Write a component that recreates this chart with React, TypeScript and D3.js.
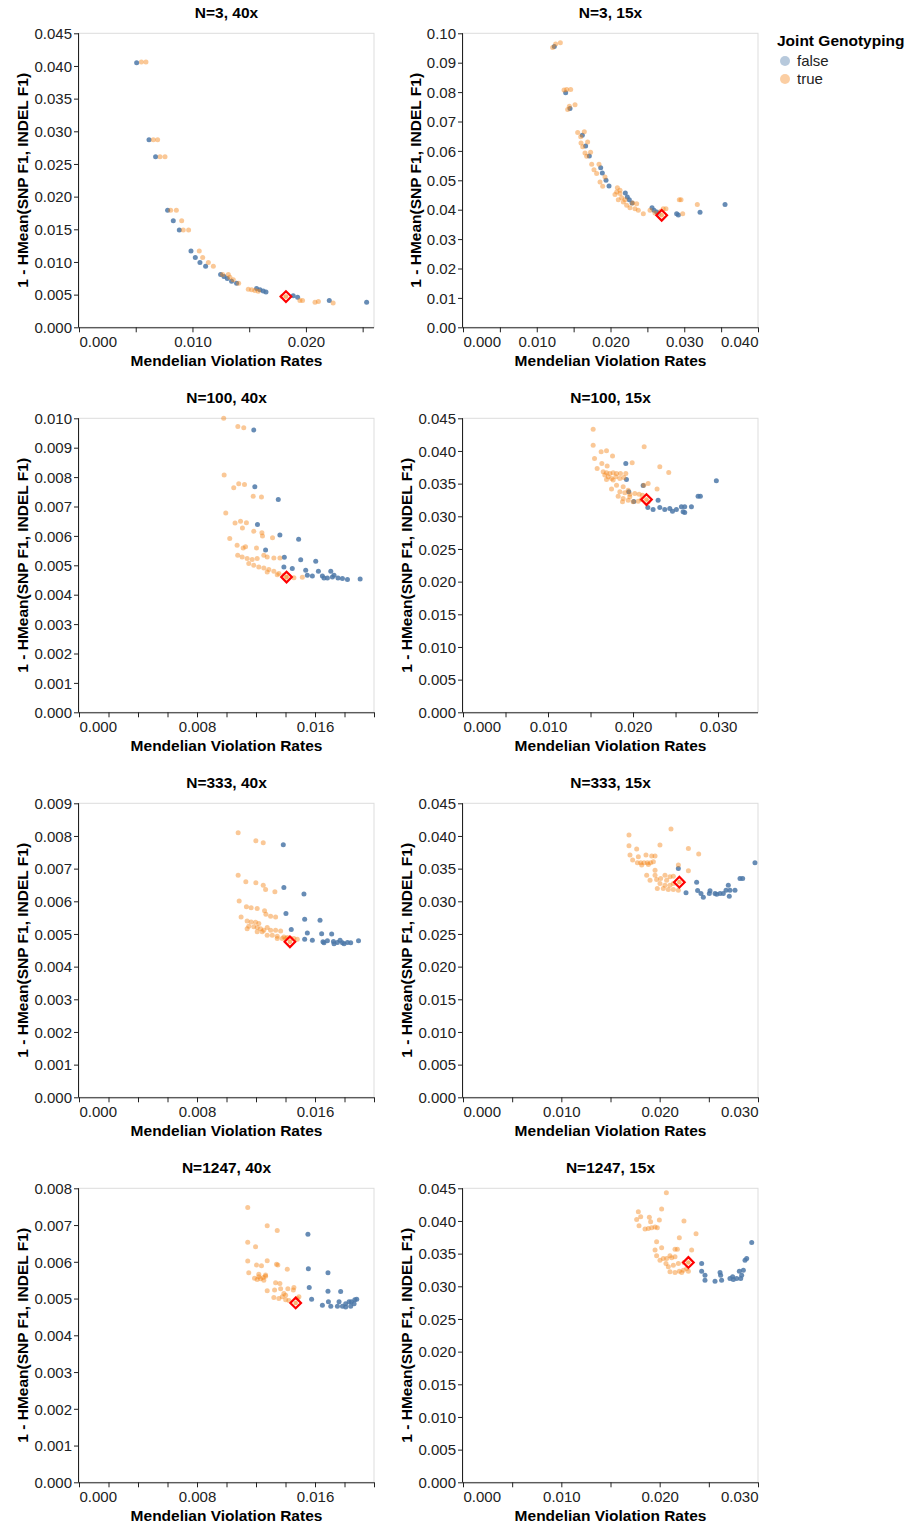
import * as d3 from "d3";

type Pt = [number, number];

// ---- data: [Mendelian violation rate, 1 - HMean(SNP F1, INDEL F1)] ----

// N=3, 40x
const n3x40False: Pt[] = [
  [0.00508, 0.0405], [0.00617, 0.0287], [0.00675, 0.0261], [0.00781, 0.0179], [0.00831, 0.0163],
  [0.00884, 0.0149], [0.00987, 0.01166], [0.01025, 0.01069], [0.01066, 0.00992], [0.01116, 0.00936],
  [0.01248, 0.00808], [0.01278, 0.00777], [0.01307, 0.00746], [0.01345, 0.00706], [0.01389, 0.00675],
  [0.01565, 0.00593], [0.01595, 0.00573], [0.01624, 0.00557], [0.01648, 0.00542], [0.01888, 0.00481],
  [0.01927, 0.0046], [0.02206, 0.00409], [0.02535, 0.00383],
];
const n3x40True: Pt[] = [
  [0.0055, 0.0406], [0.0059, 0.0406], [0.00655, 0.0287], [0.00693, 0.0287], [0.00714, 0.0261],
  [0.00758, 0.0261], [0.00808, 0.0179], [0.00858, 0.0179], [0.00905, 0.0163], [0.00919, 0.0149],
  [0.00966, 0.0149], [0.0106, 0.01166], [0.0109, 0.0107], [0.0114, 0.00992], [0.01184, 0.00936],
  [0.01266, 0.00808], [0.01316, 0.00808], [0.0133, 0.00766], [0.0136, 0.00726], [0.01407, 0.00675],
  [0.01492, 0.00583], [0.01521, 0.00573], [0.0155, 0.00562], [0.0158, 0.00552], [0.0179, 0.0047],
  [0.01947, 0.00409], [0.0197, 0.00409], [0.0208, 0.00383], [0.0211, 0.00394], [0.0224, 0.00373],
];
const n3x40Best: Pt = [0.01824, 0.0047];

// N=3, 15x
const n3x15False: Pt[] = [
  [0.01238, 0.0955], [0.01392, 0.0798], [0.01451, 0.0744], [0.01618, 0.0653], [0.01663, 0.0617],
  [0.01713, 0.0583], [0.01867, 0.0543], [0.01889, 0.0525], [0.01939, 0.05], [0.0198, 0.0481],
  [0.02201, 0.0457], [0.02228, 0.0443], [0.02255, 0.0434], [0.02292, 0.0423], [0.02563, 0.0407],
  [0.0259, 0.0398], [0.02626, 0.0392], [0.02653, 0.0386], [0.02897, 0.0386], [0.0292, 0.0382],
  [0.03214, 0.0391], [0.03553, 0.0418],
];
const n3x15True: Pt[] = [
  [0.01216, 0.0952], [0.01256, 0.0964], [0.0132, 0.0968], [0.0137, 0.0807], [0.01406, 0.0809],
  [0.0146, 0.0809], [0.01419, 0.0741], [0.01442, 0.0752], [0.01519, 0.0757], [0.01555, 0.0663],
  [0.01596, 0.0648], [0.01645, 0.0665], [0.016, 0.0627], [0.01623, 0.0614], [0.0169, 0.063],
  [0.01654, 0.0593], [0.01677, 0.0582], [0.0173, 0.0595], [0.01745, 0.0555], [0.01776, 0.0536],
  [0.01844, 0.0555], [0.01812, 0.0523], [0.01858, 0.0494], [0.01894, 0.048], [0.01925, 0.0511],
  [0.02093, 0.0475], [0.02084, 0.046], [0.02061, 0.0452], [0.02129, 0.0455], [0.02106, 0.0434],
  [0.02151, 0.0441], [0.02174, 0.0426], [0.02219, 0.0415], [0.02264, 0.0407], [0.02332, 0.0403],
  [0.02377, 0.0398], [0.02445, 0.0386], [0.02355, 0.042], [0.02301, 0.0423], [0.02197, 0.0434],
  [0.02129, 0.0466], [0.02536, 0.0398], [0.02603, 0.0389], [0.02715, 0.0403], [0.02752, 0.0403],
  [0.0268, 0.0395], [0.02933, 0.0434], [0.02956, 0.0434], [0.02979, 0.0386], [0.03177, 0.0418],
];
const n3x15Best: Pt = [0.02694, 0.0381];

// N=100, 40x
const n100x40False: Pt[] = [
  [0.01185, 0.0096], [0.01192, 0.00767], [0.01351, 0.00724], [0.0121, 0.00639], [0.01362, 0.00603],
  [0.01489, 0.00589], [0.01265, 0.00552], [0.01392, 0.00527], [0.01503, 0.00519], [0.01605, 0.00514],
  [0.01389, 0.00494], [0.01446, 0.00489], [0.01537, 0.00483], [0.01623, 0.0048], [0.01707, 0.0048],
  [0.01548, 0.00466], [0.01582, 0.00464], [0.0165, 0.00464], [0.01684, 0.00457], [0.01718, 0.0046],
  [0.01729, 0.00466], [0.01756, 0.00457], [0.01786, 0.00455], [0.0182, 0.00452], [0.01906, 0.00453],
  [0.01661, 0.00457],
];
const n100x40True: Pt[] = [
  [0.00981, 0.01], [0.01077, 0.00972], [0.01117, 0.00968], [0.00984, 0.00807], [0.01049, 0.00764],
  [0.01083, 0.00777], [0.01122, 0.00775], [0.01181, 0.00735], [0.01237, 0.00732], [0.00995, 0.00678],
  [0.01058, 0.00644], [0.01095, 0.0065], [0.01135, 0.00645], [0.01108, 0.00627], [0.01185, 0.00616],
  [0.0124, 0.00611], [0.01244, 0.006], [0.01312, 0.00594], [0.01022, 0.00591], [0.01072, 0.00568],
  [0.01113, 0.00559], [0.01129, 0.00563], [0.01203, 0.00559], [0.01253, 0.00534], [0.01276, 0.00528],
  [0.01321, 0.00525], [0.01362, 0.00525], [0.01076, 0.00534], [0.01106, 0.00528], [0.0114, 0.00523],
  [0.01174, 0.0052], [0.01208, 0.00523], [0.01151, 0.00506], [0.01185, 0.005], [0.01219, 0.00494],
  [0.01253, 0.00491], [0.01287, 0.00486], [0.01321, 0.0048], [0.01355, 0.00472], [0.01389, 0.00466],
  [0.01423, 0.00464], [0.01457, 0.00458], [0.01514, 0.00459], [0.01276, 0.00477], [0.01344, 0.00468],
  [0.01401, 0.00457],
];
const n100x40Best: Pt = [0.01407, 0.0046];

// N=100, 15x
const n100x15False: Pt[] = [
  [0.01915, 0.0381], [0.01923, 0.03564], [0.02119, 0.03472], [0.0195, 0.03375], [0.02009, 0.03227],
  [0.02295, 0.03247], [0.02174, 0.03135], [0.02236, 0.03104], [0.02315, 0.03135], [0.02373, 0.03104],
  [0.02432, 0.03119], [0.0251, 0.03104], [0.02569, 0.03145], [0.02608, 0.03145], [0.02687, 0.03145],
  [0.02765, 0.03308], [0.02792, 0.03308], [0.0298, 0.03544], [0.02464, 0.03078], [0.02589, 0.03068],
  [0.02608, 0.03058],
];
const n100x15True: Pt[] = [
  [0.01531, 0.04331], [0.01531, 0.04086], [0.01625, 0.03989], [0.01688, 0.04004], [0.01759, 0.03922],
  [0.01547, 0.03886], [0.01633, 0.0381], [0.01696, 0.03769], [0.01578, 0.03733], [0.01649, 0.03682],
  [0.01688, 0.03666], [0.01727, 0.03656], [0.01766, 0.03666], [0.01806, 0.03656], [0.01852, 0.03656],
  [0.01915, 0.03656], [0.01668, 0.03631], [0.01708, 0.03605], [0.01747, 0.03579], [0.01798, 0.03605],
  [0.01845, 0.03579], [0.01892, 0.03595], [0.01688, 0.03564], [0.01766, 0.03554], [0.01806, 0.03477],
  [0.01747, 0.03416], [0.01884, 0.03452], [0.01845, 0.03375], [0.01903, 0.0336], [0.01962, 0.03339],
  [0.02021, 0.03349], [0.02072, 0.03339], [0.02111, 0.03324], [0.01825, 0.03308], [0.01884, 0.03273],
  [0.01943, 0.03247], [0.02001, 0.03222], [0.0206, 0.03232], [0.02127, 0.03477], [0.02178, 0.03503],
  [0.02131, 0.04065], [0.02315, 0.03758], [0.0242, 0.03672], [0.02283, 0.03416], [0.0199, 0.0382],
  [0.01962, 0.03298], [0.01943, 0.034], [0.01876, 0.03222], [0.02099, 0.03257], [0.02178, 0.03222],
];
const n100x15Best: Pt = [0.02158, 0.03257];

// N=333, 40x
const n333x40False: Pt[] = [
  [0.01385, 0.00773], [0.01389, 0.00642], [0.01525, 0.00622], [0.01403, 0.00563], [0.0153, 0.00545],
  [0.01634, 0.00542], [0.01439, 0.00514], [0.01548, 0.00503], [0.01645, 0.00501], [0.01713, 0.005],
  [0.0153, 0.00484], [0.01582, 0.00481], [0.01654, 0.00476], [0.01684, 0.00479], [0.01725, 0.00477],
  [0.01752, 0.00474], [0.0177, 0.00481], [0.01786, 0.00473], [0.0182, 0.00474], [0.01842, 0.00473],
  [0.01895, 0.00479], [0.01729, 0.0047], [0.01797, 0.0047], [0.01661, 0.00473],
];
const n333x40True: Pt[] = [
  [0.01079, 0.0081], [0.01199, 0.00785], [0.01249, 0.00779], [0.01079, 0.0068], [0.01131, 0.0066],
  [0.01199, 0.00657], [0.01249, 0.00649], [0.01265, 0.00636], [0.01328, 0.00629], [0.01086, 0.00601],
  [0.01135, 0.00583], [0.01167, 0.0058], [0.01208, 0.00578], [0.01258, 0.00571], [0.01267, 0.0056],
  [0.01299, 0.00554], [0.01333, 0.00552], [0.01099, 0.00552], [0.0114, 0.0054], [0.01167, 0.00537],
  [0.01197, 0.00536], [0.01219, 0.00532], [0.01151, 0.00524], [0.01185, 0.00522], [0.01208, 0.0052],
  [0.01231, 0.00516], [0.01276, 0.0052], [0.0114, 0.00516], [0.01253, 0.00511], [0.01299, 0.00511],
  [0.01333, 0.00511], [0.01367, 0.00509], [0.01276, 0.00496], [0.0131, 0.00496], [0.01344, 0.00493],
  [0.01389, 0.00491], [0.01412, 0.00489], [0.01435, 0.00486], [0.01457, 0.00486], [0.0148, 0.00484],
  [0.01344, 0.00486], [0.01378, 0.00486], [0.01401, 0.00486], [0.01208, 0.00507], [0.01242, 0.00507],
];
const n333x40Best: Pt = [0.0143, 0.00476];

// N=333, 15x
const n333x15False: Pt[] = [
  [0.0219, 0.03503], [0.02376, 0.03293], [0.02268, 0.0313], [0.02386, 0.03165], [0.0242, 0.03119],
  [0.02512, 0.0316], [0.02505, 0.03119], [0.02563, 0.03119], [0.02614, 0.03119], [0.02675, 0.0317],
  [0.02698, 0.03247], [0.02715, 0.0317], [0.02766, 0.0317], [0.02817, 0.03349], [0.02844, 0.03349],
  [0.02969, 0.0359], [0.0258, 0.03109], [0.02647, 0.03119], [0.02444, 0.03063], [0.02708, 0.03078],
];
const n333x15True: Pt[] = [
  [0.01688, 0.04014], [0.02115, 0.04106], [0.01688, 0.0385], [0.01766, 0.03799], [0.01698, 0.03707],
  [0.01783, 0.03682], [0.01861, 0.03707], [0.01919, 0.03692], [0.01953, 0.03692], [0.01725, 0.03631],
  [0.01773, 0.0359], [0.01807, 0.0359], [0.01841, 0.0359], [0.01875, 0.0359], [0.01908, 0.0359],
  [0.01936, 0.03605], [0.01817, 0.03554], [0.01885, 0.03564], [0.02003, 0.03861], [0.02292, 0.0381],
  [0.02397, 0.03723], [0.01868, 0.034], [0.01953, 0.03477], [0.01953, 0.034], [0.01902, 0.03324],
  [0.01969, 0.03334], [0.0201, 0.03349], [0.02054, 0.034], [0.02105, 0.03375], [0.02139, 0.03385],
  [0.02003, 0.03273], [0.02054, 0.03247], [0.02105, 0.03247], [0.01976, 0.03196], [0.02037, 0.03196],
  [0.02088, 0.03181], [0.02139, 0.03181], [0.0219, 0.0317], [0.02292, 0.03467], [0.0219, 0.03554],
  [0.02071, 0.03324], [0.02139, 0.03273],
];
const n333x15Best: Pt = [0.022, 0.03293];

// N=1247, 40x
const n1247x40False: Pt[] = [
  [0.01552, 0.00675], [0.01555, 0.00581], [0.01688, 0.0057], [0.01561, 0.0053], [0.01688, 0.0052],
  [0.01774, 0.00519], [0.01577, 0.00498], [0.0165, 0.00482], [0.01691, 0.00491], [0.01707, 0.00479],
  [0.01763, 0.00491], [0.01752, 0.00479], [0.01786, 0.00479], [0.01808, 0.00486], [0.01831, 0.00491],
  [0.01847, 0.00491], [0.0187, 0.00497], [0.01883, 0.00498], [0.01808, 0.00477], [0.01842, 0.00479],
  [0.01865, 0.00486],
];
const n1247x40True: Pt[] = [
  [0.01144, 0.00748], [0.01276, 0.00698], [0.01344, 0.00685], [0.01144, 0.00653], [0.01197, 0.00641],
  [0.01144, 0.00602], [0.01203, 0.00591], [0.01237, 0.00589], [0.01276, 0.00603], [0.01339, 0.00593],
  [0.01348, 0.00591], [0.01412, 0.0058], [0.01151, 0.0057], [0.0119, 0.00555], [0.01208, 0.00552],
  [0.01231, 0.00554], [0.01249, 0.00557], [0.01265, 0.00561], [0.01253, 0.0055], [0.01219, 0.00566],
  [0.01333, 0.00543], [0.01362, 0.00541], [0.01265, 0.00564], [0.01219, 0.00559], [0.01276, 0.00521],
  [0.01326, 0.00523], [0.01367, 0.00527], [0.01389, 0.00514], [0.01401, 0.00509], [0.01378, 0.00505],
  [0.01321, 0.00503], [0.01355, 0.005], [0.01401, 0.00497], [0.01416, 0.00527], [0.01457, 0.0053],
  [0.01453, 0.00523], [0.01423, 0.00495], [0.0148, 0.005], [0.01491, 0.00505],
];
const n1247x40Best: Pt = [0.01469, 0.00488];

// N=1247, 15x
const n1247x15False: Pt[] = [
  [0.02427, 0.03349], [0.02427, 0.03232], [0.02461, 0.0317], [0.02461, 0.03094], [0.02563, 0.03078],
  [0.02614, 0.03211], [0.0263, 0.03094], [0.02742, 0.03145], [0.02783, 0.03119], [0.02834, 0.0317],
  [0.0281, 0.03232], [0.02851, 0.03247], [0.02868, 0.034], [0.02885, 0.03426], [0.02936, 0.03672],
  [0.02715, 0.03119], [0.02749, 0.03104], [0.02824, 0.03119], [0.0262, 0.0317],
];
const n1247x15True: Pt[] = [
  [0.02068, 0.04433], [0.0202, 0.04183], [0.01783, 0.04142], [0.01766, 0.04024], [0.01807, 0.04065],
  [0.01895, 0.04055], [0.01997, 0.04014], [0.0179, 0.03927], [0.01851, 0.03876], [0.01885, 0.03886],
  [0.01919, 0.03897], [0.01953, 0.03907], [0.01976, 0.03897], [0.01908, 0.03989], [0.02247, 0.03999],
  [0.022, 0.03743], [0.0237, 0.03805], [0.01969, 0.03682], [0.0202, 0.0359], [0.01953, 0.03554],
  [0.02156, 0.03569], [0.0218, 0.03569], [0.02325, 0.03554], [0.01969, 0.03467], [0.02037, 0.03426],
  [0.02071, 0.03426], [0.02105, 0.03467], [0.02122, 0.03436], [0.02156, 0.03452], [0.02003, 0.034],
  [0.02064, 0.03349], [0.02088, 0.03298], [0.0219, 0.03349], [0.02139, 0.03324], [0.02247, 0.03365],
  [0.02105, 0.03222], [0.02156, 0.03211], [0.022, 0.03232], [0.02241, 0.03247], [0.02275, 0.03273],
  [0.02292, 0.03232], [0.02224, 0.03211],
];
const n1247x15Best: Pt = [0.02292, 0.03365];

const legendLabels = ["false", "true"];

const PANELS = [
  { title: "N=3, 40x", xMax: 0.026, xStep: 0.005, xLabelEvery: 2, yMax: 0.045, yStep: 0.005, yFmt: ".3f", f: n3x40False, t: n3x40True, best: n3x40Best },
  { title: "N=3, 15x", xMax: 0.04, xStep: 0.005, xLabelEvery: 2, yMax: 0.1, yStep: 0.01, yFmt: ".2f", f: n3x15False, t: n3x15True, best: n3x15Best },
  { title: "N=100, 40x", xMax: 0.02, xStep: 0.002, xLabelEvery: 4, yMax: 0.01, yStep: 0.001, yFmt: ".3f", f: n100x40False, t: n100x40True, best: n100x40Best },
  { title: "N=100, 15x", xMax: 0.0347, xStep: 0.005, xLabelEvery: 2, yMax: 0.045, yStep: 0.005, yFmt: ".3f", f: n100x15False, t: n100x15True, best: n100x15Best },
  { title: "N=333, 40x", xMax: 0.02, xStep: 0.002, xLabelEvery: 4, yMax: 0.009, yStep: 0.001, yFmt: ".3f", f: n333x40False, t: n333x40True, best: n333x40Best },
  { title: "N=333, 15x", xMax: 0.03, xStep: 0.005, xLabelEvery: 2, yMax: 0.045, yStep: 0.005, yFmt: ".3f", f: n333x15False, t: n333x15True, best: n333x15Best },
  { title: "N=1247, 40x", xMax: 0.02, xStep: 0.002, xLabelEvery: 4, yMax: 0.008, yStep: 0.001, yFmt: ".3f", f: n1247x40False, t: n1247x40True, best: n1247x40Best },
  { title: "N=1247, 15x", xMax: 0.03, xStep: 0.005, xLabelEvery: 2, yMax: 0.045, yStep: 0.005, yFmt: ".3f", f: n1247x15False, t: n1247x15True, best: n1247x15Best },
];

const FONT = "'Liberation Sans', Arial, Helvetica, sans-serif";
const W = 295, H = 294;
const COL_X = [79, 463];
const ROW_Y = [33.3, 418.3, 803.3, 1188.3];
const BLUE = "#4c78a8", ORANGE = "#f58518";
const AXIS = "#222";

let ctx: CanvasRenderingContext2D | null = null;
function textWidth(s: string, font: string) {
  if (!ctx) ctx = document.createElement("canvas").getContext("2d");
  if (!ctx) return s.length * 8.3;
  ctx.font = font;
  return ctx.measureText(s).width;
}

function ticks(max: number, step: number) {
  const n = Math.floor(max / step + 1e-6);
  return d3.range(n + 1).map((i) => +(i * step).toFixed(6));
}

function Panel({ p, left, top }: { p: typeof PANELS[number]; left: number; top: number }) {
  const x = d3.scaleLinear().domain([0, p.xMax]).range([0, W]);
  const y = d3.scaleLinear().domain([0, p.yMax]).range([H, 0]);
  const xFmt = d3.format(".3f");
  const yFmt = d3.format(p.yFmt);
  const xt = ticks(p.xMax, p.xStep);
  const yt = ticks(p.yMax, p.yStep);
  const labelW = d3.max(yt, (v) => textWidth(yFmt(v), `15px ${FONT}`)) || 38;
  const yTitleX = -5 - 2 - labelW - 6;
  const diamond = d3.symbol().type(d3.symbolDiamond2).size(72)();

  return (
    <g transform={`translate(${left},${top})`}>
      <rect x={0} y={0} width={W} height={H} fill="#fff" stroke="#ddd" />
      <text x={W / 2} y={-15} textAnchor="middle" fontSize={15.5} fontWeight="bold" fill="#000">{p.title}</text>

      {/* points */}
      {p.f.map((d, i) => (
        <circle key={"f" + i} cx={x(d[0])} cy={y(d[1])} r={2.5} fill={BLUE} fillOpacity={0.85} />
      ))}
      {p.t.map((d, i) => (
        <circle key={"t" + i} cx={x(d[0])} cy={y(d[1])} r={2.5} fill={ORANGE} fillOpacity={0.45} />
      ))}
      <path d={diamond || ""} transform={`translate(${x(p.best[0])},${y(p.best[1])})`} fill="#fff" fillOpacity={0.55} stroke="#ff0000" strokeWidth={2.2} />
      <circle cx={x(p.best[0])} cy={y(p.best[1])} r={2.3} fill={ORANGE} fillOpacity={0.6} />

      {/* x axis */}
      <line x1={0} x2={W} y1={H + 0.5} y2={H + 0.5} stroke={AXIS} />
      {xt.map((v, i) => (
        <g key={"xt" + i} transform={`translate(${x(v) + 0.5},${H})`}>
          <line y1={0} y2={5} stroke={AXIS} />
          {i % p.xLabelEvery === 0 && (
            <text y={20} fontSize={15} fill="#222"
              textAnchor={v === 0 ? "start" : Math.abs(v - p.xMax) < 1e-9 ? "end" : "middle"}>
              {xFmt(v)}
            </text>
          )}
        </g>
      ))}
      <text x={W / 2} y={H + 39} textAnchor="middle" fontSize={15.5} fontWeight="bold" fill="#000">Mendelian Violation Rates</text>

      {/* y axis */}
      <line x1={-0.5} x2={-0.5} y1={0} y2={H} stroke={AXIS} />
      {yt.map((v, i) => (
        <g key={"yt" + i} transform={`translate(0,${y(v) + 0.5})`}>
          <line x1={-5} x2={0} stroke={AXIS} />
          <text x={-7} dy="0.35em" textAnchor="end" fontSize={15} fill="#222">{yFmt(v)}</text>
        </g>
      ))}
      <text transform={`translate(${yTitleX},${H / 2}) rotate(-90)`} textAnchor="middle" fontSize={15.5} fontWeight="bold" fill="#000">
        1 - HMean(SNP F1, INDEL F1)
      </text>
    </g>
  );
}

export default function App() {
  return (
    <svg width={909} height={1525} style={{ position: "absolute", left: 0, top: 0, background: "#fff" }} fontFamily={FONT}>
      <rect width={909} height={1525} fill="#fff" />
      {PANELS.map((p, i) => (
        <Panel key={p.title} p={p} left={COL_X[i % 2]} top={ROW_Y[Math.floor(i / 2)]} />
      ))}
      <g transform="translate(777,0)">
        <text x={0} y={46} fontSize={15.5} fontWeight="bold" fill="#000">Joint Genotyping</text>
        {legendLabels.map((l, i) => (
          <g key={l} transform={`translate(0,${61 + i * 18})`}>
            <circle cx={8} cy={0} r={5} fill={i === 0 ? BLUE : ORANGE} fillOpacity={0.4} />
            <text x={20} y={5.3} fontSize={15} fill="#222">{l}</text>
          </g>
        ))}
      </g>
    </svg>
  );
}
